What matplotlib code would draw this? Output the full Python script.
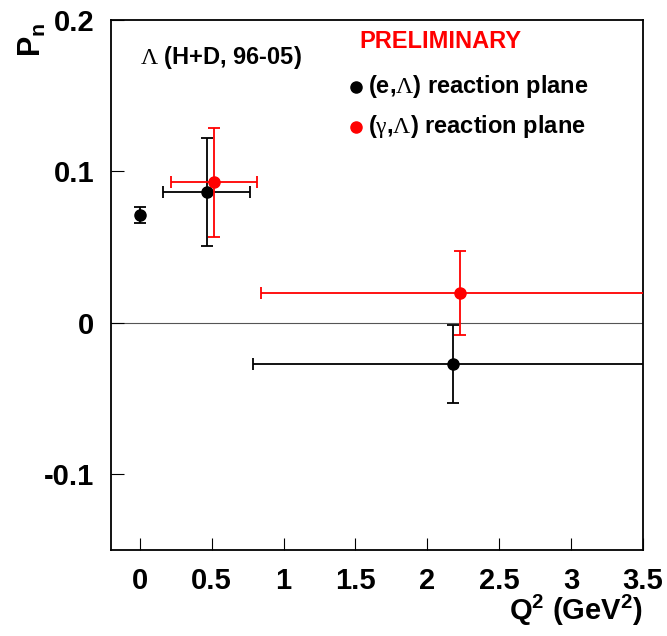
import matplotlib
matplotlib.use("Agg")
import matplotlib.pyplot as plt

plt.rcParams['font.family'] = ['Liberation Sans', 'DejaVu Sans']
plt.rcParams['mathtext.fontset'] = 'custom'
plt.rcParams['mathtext.rm'] = 'Liberation Serif'
plt.rcParams['mathtext.bf'] = 'Liberation Sans:bold'

# (e,Lambda) reaction plane - black
e_x = [0.0, 0.464, 2.18]
e_y = [0.0712, 0.0865, -0.0274]
e_xerr = [0.0, 0.30, 1.39]
e_yerr = [0.0055, 0.0355, 0.0258]

# (gamma,Lambda) reaction plane - red
g_x = [0.515, 2.23]
g_y = [0.0926, 0.0197]
g_xerr = [0.297, 1.39]
g_yerr = [0.036, 0.028]

xticks = [0, 0.5, 1, 1.5, 2, 2.5, 3, 3.5]
xticklabels = ['0', '0.5', '1', '1.5', '2', '2.5', '3', '3.5']
yticks = [-0.1, 0, 0.1, 0.2]
yticklabels = ['-0.1', '0', '0.1', '0.2']

fig = plt.figure(figsize=(6.67, 6.36), dpi=100)
ax = fig.add_axes([0.1665, 0.135, 0.7975, 0.834])

ax.axhline(0, color='#555555', lw=0.8, zorder=1)

ax.errorbar(e_x, e_y, xerr=e_xerr, yerr=e_yerr, fmt='o', color='black',
            ms=8, elinewidth=1.3, capsize=4, capthick=1.3, zorder=3)
ax.errorbar(g_x, g_y, xerr=g_xerr, yerr=g_yerr, fmt='o', color='red',
            ms=8, elinewidth=1.3, capsize=4, capthick=1.3, zorder=4)

ax.set_xlim(-0.2, 3.5)
ax.set_ylim(-0.15, 0.2)
ax.set_xticks(xticks)
ax.set_xticklabels(xticklabels)
ax.set_yticks(yticks)
ax.set_yticklabels(yticklabels)
ax.tick_params(direction='in', length=9, width=0.8, labelsize=21, pad=12,
               top=False, right=False)
for lab in ax.get_xticklabels() + ax.get_yticklabels():
    lab.set_fontweight('bold')
for s in ax.spines.values():
    s.set_linewidth(1.3)

# axis labels
fig.text(0.963, 0.012, r'Q$^{\mathregular{2}}$ (GeV$^{\mathregular{2}}$)',
         ha='right', va='bottom', fontsize=21, fontweight='bold')
fig.text(0.025, 0.938, r'P$_{\mathregular{n}}$', rotation=90, ha='left',
         va='center', fontsize=22, fontweight='bold')

# annotations
ax.text(0.055, 0.928, r'$\mathrm{\Lambda}$ (H+D, 96-05)', transform=ax.transAxes,
        ha='left', va='center', fontsize=17, fontweight='bold')
ax.text(0.466, 0.958, 'PRELIMINARY', transform=ax.transAxes, color='red',
        ha='left', va='center', fontsize=17, fontweight='bold')
ax.plot([0.46], [0.874], 'o', color='black', ms=8, transform=ax.transAxes, clip_on=False)
ax.text(0.483, 0.874, r'(e,$\mathrm{\Lambda}$) reaction plane', transform=ax.transAxes,
        ha='left', va='center', fontsize=17, fontweight='bold')
ax.plot([0.46], [0.798], 'o', color='red', ms=8, transform=ax.transAxes, clip_on=False)
ax.text(0.483, 0.798, r'($\mathrm{\gamma}$,$\mathrm{\Lambda}$) reaction plane',
        transform=ax.transAxes, ha='left', va='center', fontsize=17, fontweight='bold')

fig.savefig('out.png', dpi=100)
